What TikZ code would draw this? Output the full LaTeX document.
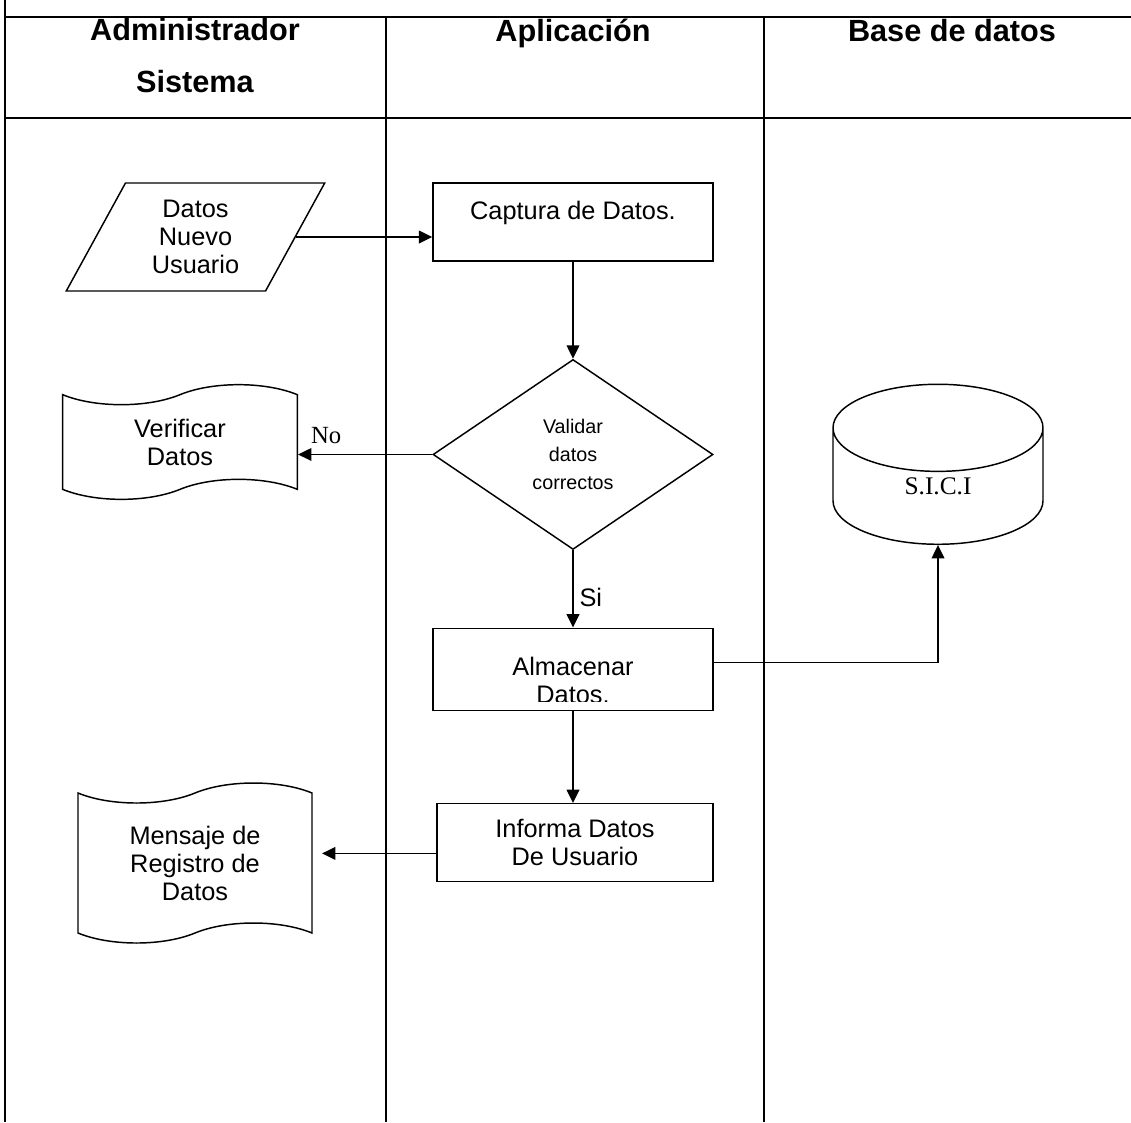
\documentclass[tikz,border=0pt]{standalone}
\usepackage{fontspec}
\setmainfont{Liberation Sans}
\newfontfamily\serifrm{Liberation Serif}
\usepackage{tikz}
\usetikzlibrary{arrows.meta,positioning,calc,shapes.geometric,shapes.symbols}

\begin{document}
\begin{tikzpicture}[x=0.75pt,y=-0.75pt,
  txt/.style={font=\fontsize{19}{21}\selectfont,align=center},
  head/.style={font=\bfseries\fontsize{23}{39}\selectfont,align=center},
  proc/.style={draw,line width=1.1pt,minimum width=210pt,minimum height=58.5pt,inner sep=0pt,txt},
  docshape/.style={draw,line width=1.1pt,tape,tape bend height=15pt,inner sep=0pt,txt},
  flow/.style={line width=1.1pt,-{Triangle[length=10pt,width=9.5pt]}}]
\useasboundingbox (0,0) rectangle (1131,1122);
% swimlanes
\draw[line width=1.5pt] (5,0) -- (5,1122) (5,17) -- (1131,17) (5,118) -- (1131,118)
  (386,17) -- (386,1122) (764,17) -- (764,1122);
\node[head] (adm) at (195,56) {Administrador\\Sistema};
\node[head,anchor=base] (app) at (573,41) {Aplicación};
\node[head,anchor=base] (bd) at (952,41) {Base de datos};
% aplicacion
\node[proc,text depth=18pt] (cap) at (573,222) {Captura de Datos.};
\node[draw,line width=1.1pt,diamond,aspect=1.47,minimum width=210pt,minimum height=142.5pt,inner sep=0pt,
  font=\fontsize{14.8}{21}\selectfont,align=center,below=72.75pt of cap] (val) {Validar\\datos\\correctos};
\node[proc,minimum height=61.5pt,below=58pt of val] (alm) {};
\begin{scope}
\clip (alm.north west) rectangle ($(alm.south east)+(0,-10)$);
\node[txt] (almtxt) at (573,680) {Almacenar\\Datos.};
\end{scope}
\node[proc,minimum width=207pt,below=69pt of alm,xshift=1.5pt] (inf) {Informa Datos\\De Usuario};
% administrador
\node[draw,line width=1.1pt,trapezium,trapezium left angle=63.4,trapezium right angle=116.6,
  trapezium stretches=true,minimum width=194pt,minimum height=81pt,inner sep=0pt,txt] (datos) at (195.5,237) {Datos\\Nuevo\\Usuario};
\node[docshape,minimum width=176pt,minimum height=86pt] (ver) at (180,442) {Verificar\\Datos};
\node[docshape,minimum width=175.5pt,minimum height=120pt] (men) at (195,863) {Mensaje de\\Registro de\\Datos};
% base de datos
\node[draw,line width=1.1pt,cylinder,shape border rotate=90,aspect=1.15,minimum width=157.5pt,minimum height=120pt,
  font=\serifrm\fontsize{19}{21}\selectfont,anchor=south] (sici) at (938,545) {\raisebox{5pt}[\height][\depth]{S.I.C.I}};
% flujo
\draw[flow] (datos.east) -- (datos.east -| cap.west);
\draw[flow] (cap) -- (val);
\draw[flow] (val.west) -- (val.west -| ver.east) node[pos=0.79,above=4pt,font=\serifrm\fontsize{18.5}{21}\selectfont] {No};
\draw[flow] (val) -- (alm) node[pos=0.61,right=1pt,txt] {Si};
\draw[flow] ([yshift=5.25pt]alm.east) -| (sici.south);
\draw[flow] (alm.south) -- (alm.south |- inf.north);
\draw[flow,shorten >=7pt] ([yshift=-8pt]inf.west) -- ([yshift=-8pt]inf.west -| men.east);
\end{tikzpicture}
\end{document}
